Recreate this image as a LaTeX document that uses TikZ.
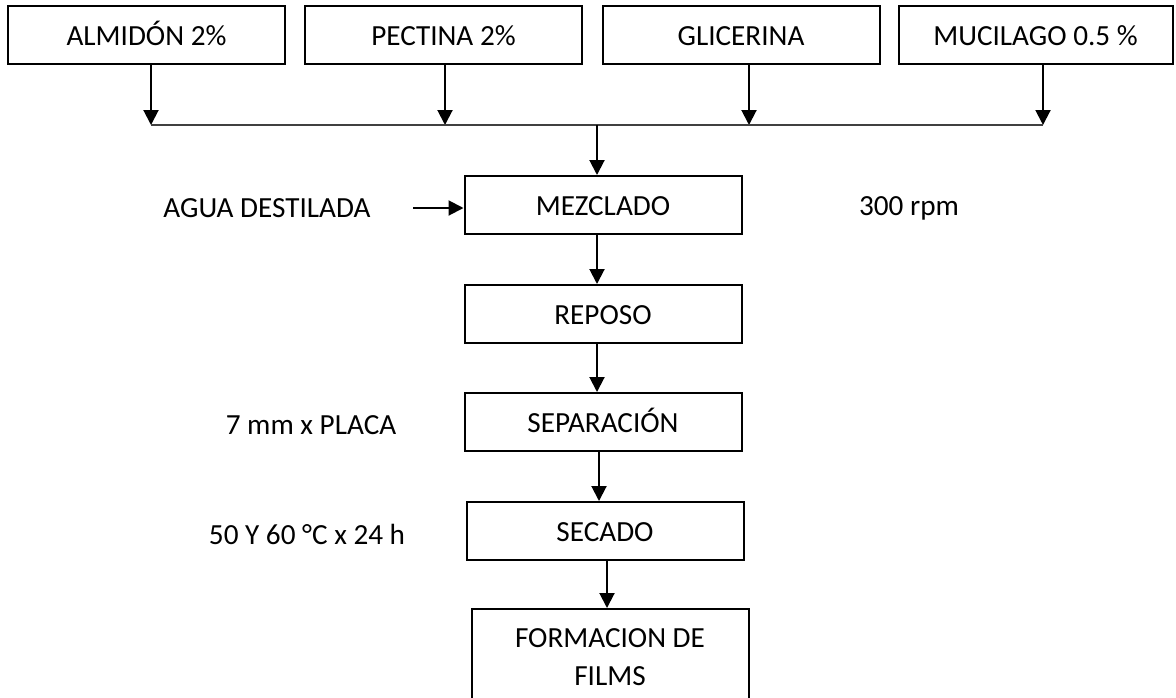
\documentclass[tikz,border=0pt]{standalone}
\usepackage{fontspec}
\setmainfont{Carlito}
\usetikzlibrary{arrows.meta}

\begin{document}
\begin{tikzpicture}[x=0.5pt,y=-0.5pt,>={Triangle[length=7.5pt,width=7.5pt]},
                    line width=1pt,node distance=148.5pt,
                    frame/.style={rectangle,draw,minimum width=138.5pt,minimum height=29pt,
                                  font=\fontsize{14.6}{19}\selectfont},
                    box/.style={frame,text height=12pt,text depth=1.6pt},
                    note/.style={font=\fontsize{14.6}{19}\selectfont},
                    join line/.style={line width=0.6pt,black!75}]
  \useasboundingbox (0,0) rectangle (1176,697);
  \clip (0,0) rectangle (1176,697);
  % ingredientes
  \node[box] (alm) at (146.5,35) {ALMIDÓN 2\%};
  \node[box] (pec) [right of=alm] {PECTINA 2\%};
  \node[box] (gli) [right of=pec,xshift=0.25pt] {GLICERINA};
  \node[box,minimum width=137pt] (muc) [right of=gli,xshift=-1.25pt] {MUCILAGO 0.5 \%};
  % proceso
  \node[box] (mez) at (603,205) {MEZCLADO};
  \node[box] (rep) [below of=mez,node distance=54.5pt] {REPOSO};
  \node[box] (sep) [below of=rep,node distance=54pt] {SEPARACIÓN};
  \node[box] (sec) [below of=sep,node distance=54.5pt,xshift=1pt] {SECADO};
  \node[frame,minimum height=48pt,align=center] (fil) [below of=sec,node distance=63pt,xshift=2.5pt] {FORMACION DE\\FILMS};
  % condiciones
  \node[note] (agua) [left of=mez,node distance=168pt,yshift=-1.5pt] {AGUA DESTILADA};
  \node[note] (rpm) [right of=mez,node distance=153pt,yshift=-1.5pt] {300 rpm};
  \node[note] (placa) [left of=sep,node distance=146pt,yshift=-1.5pt] {7 mm x PLACA};
  \node[note] (temp) [left of=sec,node distance=149pt,yshift=-1.5pt] {50 Y 60 °C x 24 h};

  \coordinate (join) at (597,125);
  \coordinate (agua-in) at (413,208);
  \foreach \n/\x in {alm/151,pec/445,gli/749,muc/1043} {
    \coordinate (in-\n) at (\x,125);
    \draw[->] (in-\n |- \n.south) -- (in-\n);
  }
  \draw[join line] (in-alm) -- (in-muc);
  \draw[->] (join) -- (join |- mez.north);
  \draw[->] (agua-in) -- (agua-in -| mez.west);
  \draw[->] ([xshift=-3pt]mez.south) -- ([xshift=-3pt]mez.south |- rep.north);
  \draw[->] ([xshift=-3pt]rep.south) -- ([xshift=-3pt]rep.south |- sep.north);
  \draw[->] ([xshift=-2pt]sep.south) -- ([xshift=-2pt]sep.south |- sec.north);
  \draw[->] ([xshift=1pt]sec.south) -- ([xshift=1pt]sec.south |- fil.north);
\end{tikzpicture}
\end{document}
